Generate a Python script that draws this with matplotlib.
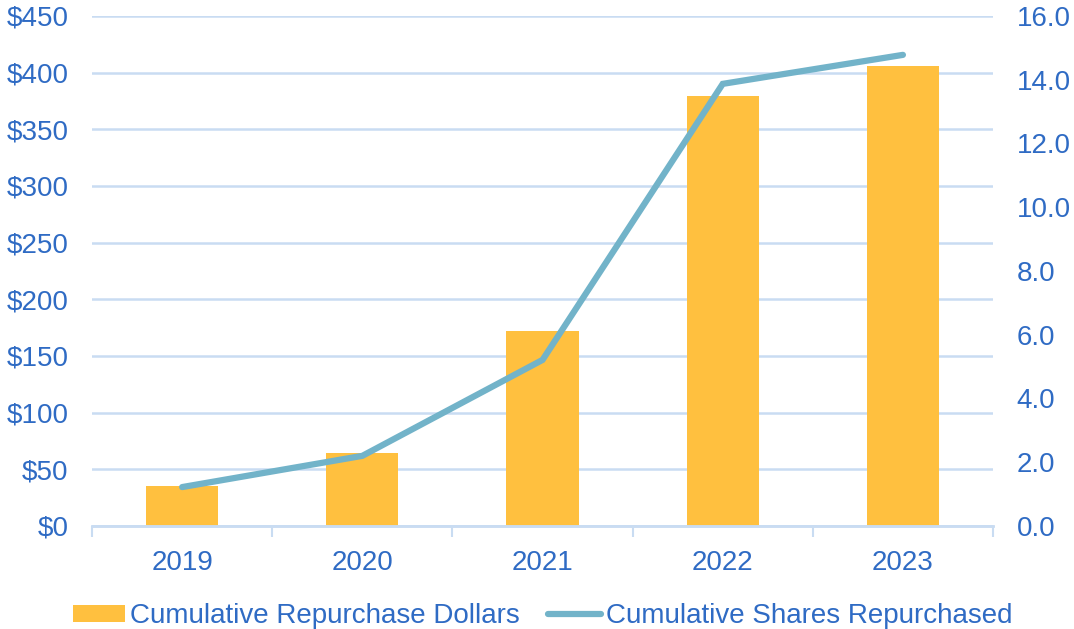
import matplotlib.pyplot as plt
import numpy as np

years = ["2019", "2020", "2021", "2022", "2023"]
repurchase_dollars = [35, 64, 172, 379, 406]
shares_repurchased = [1.22, 2.20, 5.21, 13.87, 14.78]

text_blue = "#2F6BC4"
grid_blue = "#C9DCF2"
bar_color = "#FFC03F"
line_color = "#72B3C9"

plt.rcParams['font.family'] = ['Liberation Sans', 'DejaVu Sans']

fig = plt.figure(figsize=(10.74, 6.29), dpi=100)
ax = fig.add_axes([0.0857, 0.1638, 0.8389, 0.8108])
ax2 = ax.twinx()

x = np.arange(len(years))
bars = ax.bar(x, repurchase_dollars, width=0.4, color=bar_color, zorder=2,
              label="Cumulative Repurchase Dollars")
line, = ax2.plot(x, shares_repurchased, color=line_color, lw=4.5,
                 solid_capstyle="round", solid_joinstyle="miter",
                 label="Cumulative Shares Repurchased")

ax.set_xlim(-0.5, 4.5)
ax.set_ylim(0, 450)
ax.set_yticks(np.arange(0, 451, 50))
ax.set_yticklabels(["${}".format(v) for v in range(0, 451, 50)])
ax2.set_ylim(0, 16)
ax2.set_yticks(np.arange(0, 16.1, 2))
ax2.set_yticklabels(["{:.1f}".format(v) for v in np.arange(0, 16.1, 2)])

ax.yaxis.grid(True, color=grid_blue, lw=1.8, zorder=0)
ax.set_axisbelow(True)

ax.set_xticks(x)
ax.set_xticklabels(years)
ax.set_xticks(np.arange(-0.5, 4.6, 1), minor=True)
ax.tick_params(axis="x", which="major", length=0, pad=17, labelsize=20, labelcolor=text_blue)
ax.tick_params(axis="x", which="minor", length=8, width=1.5, color=grid_blue, direction="out")
ax.tick_params(axis="y", length=0, pad=17, labelsize=20, labelcolor=text_blue)
ax2.tick_params(axis="y", length=0, pad=17, labelsize=20, labelcolor=text_blue)

for a in (ax, ax2):
    for s in ("top", "left", "right"):
        a.spines[s].set_visible(False)
    a.spines["bottom"].set_color(grid_blue)
    a.spines["bottom"].set_linewidth(1.8)

fig.legend([bars, line], [bars.get_label(), line.get_label()], loc="lower center",
           bbox_to_anchor=(0.505, -0.04), ncol=2, frameon=False, fontsize=20,
           labelcolor=text_blue, handlelength=1.9, handletextpad=0.18,
           columnspacing=1.0, handleheight=0.55)

fig.savefig("out.png", dpi=100)
